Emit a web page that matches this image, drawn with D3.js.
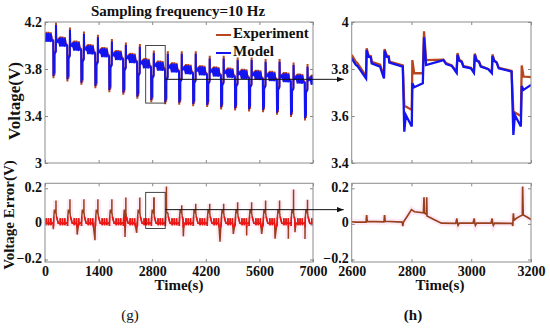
<!DOCTYPE html>
<html>
<head>
<meta charset="utf-8">
<script src="https://cdn.jsdelivr.net/npm/d3@7"></script>
<style>
  body { margin: 0; background: #fff; }
  svg text { font-family: "Liberation Serif", "Times New Roman", serif; font-weight: bold; fill: #111; }
</style>
</head>
<body>
<div id="chart"></div>
<script>
// ---- zoomed window 2600-3200 s ----
const zoomTime = [2600, 2614, 2619, 2648, 2650, 2656, 2664, 2667, 2695, 2708, 2710, 2717, 2724, 2726, 2771, 2776, 2781, 2801, 2803, 2809, 2838, 2842, 2849, 2907, 2916, 2935, 2951, 2954, 2960, 2968, 2974, 2999, 3009, 3012, 3018, 3026, 3032, 3057, 3069, 3071, 3077, 3085, 3092, 3135, 3141, 3146, 3166, 3169, 3175, 3200];
const zoomModel = [3.845, 3.817, 3.813, 3.76, 3.881, 3.852, 3.85, 3.824, 3.81, 3.76, 3.878, 3.852, 3.85, 3.827, 3.81, 3.533, 3.604, 3.555, 3.739, 3.722, 3.739, 3.935, 3.817, 3.838, 3.821, 3.813, 3.784, 3.86, 3.835, 3.83, 3.81, 3.803, 3.784, 3.86, 3.835, 3.83, 3.81, 3.799, 3.782, 3.855, 3.834, 3.827, 3.803, 3.789, 3.519, 3.604, 3.555, 3.728, 3.711, 3.732];
const zoomExperiment = [3.86, 3.83, 3.825, 3.77, 3.888, 3.858, 3.855, 3.83, 3.818, 3.768, 3.885, 3.858, 3.855, 3.832, 3.815, 3.643, 3.64, 3.626, 3.838, 3.782, 3.782, 3.96, 3.838, 3.84, 3.825, 3.815, 3.788, 3.868, 3.84, 3.833, 3.812, 3.805, 3.787, 3.866, 3.838, 3.832, 3.812, 3.8, 3.785, 3.862, 3.836, 3.829, 3.805, 3.792, 3.62, 3.615, 3.6, 3.815, 3.768, 3.765];
const zoomErrTime = [2600, 2612, 2648, 2650, 2652, 2708, 2710, 2712, 2769, 2771, 2773, 2785, 2800, 2810, 2840, 2842, 2843, 2850, 2851, 2852, 2875, 2900, 2948, 2952, 2954, 2956, 2960, 3006, 3010, 3012, 3014, 3018, 3066, 3070, 3072, 3074, 3078, 3137, 3139, 3141, 3143, 3150, 3165, 3171, 3172, 3174, 3185, 3200];
const zoomErr = [0.012, 0.01, 0.01, 0.05, 0.014, 0.011, 0.05, 0.015, 0.01, -0.012, 0.01, 0.04, 0.08, 0.068, 0.062, 0.15, 0.06, 0.055, 0.15, 0.045, 0.025, 0.004, 0.003, 0.03, 0.003, -0.008, 0.004, 0.004, 0.03, 0.003, -0.008, 0.004, 0.004, 0.03, 0.003, -0.008, 0.004, 0.003, -0.012, 0.06, 0.02, 0.03, 0.045, 0.05, 0.21, 0.05, 0.04, 0.025];

// ---- full test 0-7000 s, read per pulse cycle off panel (g) ----
const firstCycleStart = -144, firstCycleRest = 4.085;
const cycleStart = [221, 586, 951, 1316, 1681, 2046, 2411, 2776, 3141, 3506, 3871, 4236, 4601, 4966, 5331, 5696, 6061, 6426, 6791];
const cycleRest = [4.045, 4.01, 3.98, 3.955, 3.93, 3.905, 3.86, 3.84, 3.825, 3.81, 3.8, 3.79, 3.78, 3.77, 3.762, 3.752, 3.742, 3.73, 3.72];
const cycleMin = [3.74, 3.712, 3.684, 3.655, 3.621, 3.599, 3.565, 3.536, 3.519, 3.513, 3.502, 3.494, 3.474, 3.465, 3.457, 3.451, 3.428, 3.409, 3.38];
const cycleMax = [4.174, 4.132, 4.098, 4.07, 4.033, 4.004, 3.99, 3.935, 3.93, 3.93, 3.93, 3.89, 3.89, 3.876, 3.876, 3.862, 3.862, 3.834, 3.82];
// one cycle as seen in the zoom (s after the discharge pulse, offset from min / rest / max)
const shapeTime = [0, 5, 25, 27, 33, 62, 66, 73, 131, 140, 159, 175, 178, 184, 192, 198, 223, 233, 236, 242, 250, 256, 281, 293, 295, 301, 309, 316, 359];
const shapeRef = ["min", "min", "min", "rest", "rest", "rest", "max", "rest", "rest", "rest", "rest", "rest", "rest", "rest", "rest", "rest", "rest", "rest", "rest", "rest", "rest", "rest", "rest", "rest", "rest", "rest", "rest", "rest", "rest"];
const shapeOffset = [0, 0.07, 0.022, -0.099, -0.116, -0.099, 0, -0.021, 0, -0.017, -0.025, -0.054, 0.022, -0.003, -0.008, -0.028, -0.035, -0.054, 0.022, -0.003, -0.008, -0.028, -0.039, -0.056, 0.017, -0.004, -0.011, -0.035, -0.049];
const errShapeTime = [0, 2, 4, 10, 24, 34, 64, 67, 74, 76, 99, 124, 164, 176, 178, 180, 182, 186, 234, 236, 238, 240, 244, 293, 295, 297, 299, 303, 362];
const errShapeVal = [0.012, -0.012, 0.012, 0.04, 0.08, 0.068, 0.06, 0.06, 0.055, 0.045, 0.025, 0.004, 0.002, 0.006, 0.032, 0.004, -0.008, 0.004, 0.004, 0.032, 0.004, -0.008, 0.004, 0.004, 0.032, 0.004, -0.008, 0.004, 0.004];
const errSpikeTime = [287, 652, 1017, 1382, 1747, 2112, 2477, 2842, 2851, 3172, 3572, 3937, 4302, 4667, 5032, 5397, 5762, 6127, 6492, 6857];
const errSpikeVal = [0.131, 0.139, 0.139, 0.139, 0.139, 0.148, 0.148, 0.15, 0.15, 0.21, 0.105, 0.113, 0.113, 0.113, 0.121, 0.121, 0.131, 0.131, 0.193, 0.135];
const errDipTime = [218, 840, 1306, 2090, 2395, 3613, 4571, 4919, 5268, 5660, 6008, 6356, 6530, 6791];
const errDipVal = [-0.03, -0.06, -0.092, -0.074, -0.05, -0.07, -0.1, -0.056, -0.065, -0.056, -0.083, -0.083, -0.047, -0.085];

// annotation values
const zoomBoxTime = [2630, 3140], zoomBoxVolt = [3.51, 4.0], zoomBoxErr = [-0.026, 0.177];
const arrowVolt = 3.712, arrowErr = 0.08;
const fullTicks = [0, 1400, 2800, 4200, 5600, 7000];
const zoomTicks = [2600, 2800, 3000, 3200];

const width = 550, height = 329;
const svg = d3.select("#chart").append("svg").attr("width", width).attr("height", height);

const xFull = d3.scaleLinear().domain([0, 7000]).range([45, 313]);
const xZoom = d3.scaleLinear().domain([2600, 3200]).range([351.7, 531]);
const yVolt = d3.scaleLinear().domain([3, 4.2]).range([163, 22]);
const yVoltZoom = d3.scaleLinear().domain([3.4, 4]).range([163, 22]);
const yErr = d3.scaleLinear().domain([-0.214, 0.228]).range([262, 183.3]);

const colExp = "#b8461e", colModel = "#1414f0", colErr = "#98401c", colErrBase = "#ee1414";

function overviewVolt(dMin, dMax, dRest) {
  const pts = [];
  shapeTime.forEach((s, i) => {
    if (s >= 140) pts.push([firstCycleStart + s, firstCycleRest + shapeOffset[i] + dRest]);
  });
  cycleStart.forEach((d, k) => {
    shapeTime.forEach((s, i) => {
      let v;
      if (shapeRef[i] === "min") v = cycleMin[k] + shapeOffset[i] + dMin;
      else if (shapeRef[i] === "max") v = cycleMax[k] + dMax;
      else v = cycleRest[k] + shapeOffset[i] + dRest;
      pts.push([d + s, v]);
    });
  });
  return pts;
}

function overviewErr() {
  const pts = [];
  errShapeTime.forEach((s, i) => {
    if (s >= 140) pts.push([firstCycleStart + s, errShapeVal[i]]);
  });
  cycleStart.forEach((d) => {
    errShapeTime.forEach((s, i) => pts.push([d + s, errShapeVal[i]]));
  });
  errSpikeTime.forEach((t, i) => pts.push([t, errSpikeVal[i]]));
  errDipTime.forEach((t, i) => pts.push([t, errDipVal[i]]));
  return pts.sort((a, b) => a[0] - b[0]);
}

const defs = svg.append("defs");
function clip(id, x, y) {
  defs.append("clipPath").attr("id", id).append("rect")
    .attr("x", x.range()[0]).attr("y", y.range()[1])
    .attr("width", x.range()[1] - x.range()[0])
    .attr("height", y.range()[0] - y.range()[1]);
}
clip("cTL", xFull, yVolt);
clip("cTR", xZoom, yVoltZoom);
clip("cBL", xFull, yErr);
clip("cBR", xZoom, yErr);
defs.append("clipPath").attr("id", "cBand").append("rect")
  .attr("x", 45).attr("width", 268)
  .attr("y", yErr(0.04)).attr("height", yErr(-0.02) - yErr(0.04));
defs.append("marker").attr("id", "arrow").attr("viewBox", "0 0 10 10")
  .attr("refX", 10).attr("refY", 5).attr("markerWidth", 7).attr("markerHeight", 7)
  .attr("orient", "auto").attr("markerUnits", "userSpaceOnUse")
  .append("path").attr("d", "M0,1L10,5L0,9Z").attr("fill", "#111");

function frame(x, y, yTicks, xTicks, xLabels, yFmt) {
  const g = svg.append("g");
  const left = g.append("g").attr("transform", "translate(" + x.range()[0] + ",0)")
    .call(d3.axisLeft(y).tickValues(yTicks).tickSizeInner(-3).tickSizeOuter(0).tickPadding(3).tickFormat(yFmt));
  g.append("g").attr("transform", "translate(" + x.range()[1] + ",0)")
    .call(d3.axisRight(y).tickValues(yTicks).tickSizeInner(-3).tickSizeOuter(0).tickFormat(""));
  g.append("g").attr("transform", "translate(0," + y.range()[0] + ")")
    .call(d3.axisBottom(x).tickValues(xTicks).tickSizeInner(-3).tickSizeOuter(0).tickPadding(4.5)
      .tickFormat(xLabels ? d3.format("d") : ""));
  g.append("g").attr("transform", "translate(0," + y.range()[1] + ")")
    .call(d3.axisTop(x).tickValues(xTicks).tickSizeInner(-3).tickSizeOuter(0).tickFormat(""));
  if (xLabels) left.selectAll(".tick text").attr("dy", "0.2em");
  g.selectAll(".domain").remove();
  g.selectAll(".tick line").attr("stroke", "#888");
  g.selectAll(".tick text").style("font-size", "14px").attr("fill", "#111");
  g.append("rect")
    .attr("x", x.range()[0]).attr("y", y.range()[1])
    .attr("width", x.range()[1] - x.range()[0]).attr("height", y.range()[0] - y.range()[1])
    .attr("fill", "none").attr("stroke", "#8c8c8c").attr("stroke-width", 1);
}

const fmtV = (d) => (d === 4 || d === 3 ? d3.format("d")(d) : d3.format(".1f")(d));
const fmtE = (d) => (d === 0 ? "0" : d3.format(".1f")(d));

// ---- top left: full test ----
const lineFull = d3.line().x((d) => xFull(d[0])).y((d) => yVolt(d[1]));
const tl = svg.append("g").attr("clip-path", "url(#cTL)");
tl.append("path").attr("d", lineFull(overviewVolt(-0.018, 0.022, 0.01)))
  .attr("fill", "none").attr("stroke", colExp).attr("stroke-width", 2);
tl.append("path").attr("d", lineFull(overviewVolt(0, 0, 0)))
  .attr("fill", "none").attr("stroke", colModel).attr("stroke-width", 2);
frame(xFull, yVolt, [3, 3.4, 3.8, 4.2], fullTicks, false, fmtV);

// ---- top right: zoom ----
const lineZoom = d3.line().x((d) => xZoom(d[0])).y((d) => yVoltZoom(d[1]));
const tr = svg.append("g").attr("clip-path", "url(#cTR)");
tr.append("path").attr("d", lineZoom(zoomTime.map((t, i) => [t, zoomExperiment[i]])))
  .attr("fill", "none").attr("stroke", colExp).attr("stroke-width", 2.3);
tr.append("path").attr("d", lineZoom(zoomTime.map((t, i) => [t, zoomModel[i]])))
  .attr("fill", "none").attr("stroke", colModel).attr("stroke-width", 2.3);
frame(xZoom, yVoltZoom, [3.4, 3.6, 3.8, 4], zoomTicks, false, fmtV);

// ---- bottom left: error full test ----
const lineErrFull = d3.line().x((d) => xFull(d[0])).y((d) => yErr(d[1]));
const errPts = overviewErr();
const bl = svg.append("g").attr("clip-path", "url(#cBL)");
bl.append("path").attr("d", lineErrFull(errPts))
  .attr("fill", "none").attr("stroke", "#feeaf7").attr("stroke-width", 6);
bl.append("path").attr("d", lineErrFull(errPts))
  .attr("fill", "none").attr("stroke", colErr).attr("stroke-width", 1.5);
bl.append("path").attr("d", lineErrFull(errPts)).attr("clip-path", "url(#cBand)")
  .attr("fill", "none").attr("stroke", colErrBase).attr("stroke-width", 1.5);
frame(xFull, yErr, [-0.2, 0, 0.2], fullTicks, true, fmtE);

// ---- bottom right: error zoom ----
const lineErrZoom = d3.line().x((d) => xZoom(d[0])).y((d) => yErr(d[1]));
const zErrPts = zoomErrTime.map((t, i) => [t, zoomErr[i]]);
const br = svg.append("g").attr("clip-path", "url(#cBR)");
br.append("path").attr("d", lineErrZoom(zErrPts))
  .attr("fill", "none").attr("stroke", "#feeaf7").attr("stroke-width", 6);
br.append("path").attr("d", lineErrZoom(zErrPts))
  .attr("fill", "none").attr("stroke", colErr).attr("stroke-width", 1.7);
frame(xZoom, yErr, [-0.2, 0, 0.2], zoomTicks, true, fmtE);

// ---- zoom boxes and arrows ----
svg.append("rect")
  .attr("x", xFull(zoomBoxTime[0])).attr("y", yVolt(zoomBoxVolt[1]))
  .attr("width", xFull(zoomBoxTime[1]) - xFull(zoomBoxTime[0]))
  .attr("height", yVolt(zoomBoxVolt[0]) - yVolt(zoomBoxVolt[1]))
  .attr("fill", "none").attr("stroke", "#333").attr("stroke-width", 0.9);
svg.append("line")
  .attr("x1", xFull(zoomBoxTime[1])).attr("x2", xZoom.range()[0] - 8)
  .attr("y1", yVolt(arrowVolt)).attr("y2", yVolt(arrowVolt))
  .attr("stroke", "#111").attr("stroke-width", 1).attr("marker-end", "url(#arrow)");
svg.append("rect")
  .attr("x", xFull(zoomBoxTime[0])).attr("y", yErr(zoomBoxErr[1]))
  .attr("width", xFull(zoomBoxTime[1]) - xFull(zoomBoxTime[0]))
  .attr("height", yErr(zoomBoxErr[0]) - yErr(zoomBoxErr[1]))
  .attr("fill", "none").attr("stroke", "#333").attr("stroke-width", 0.9);
svg.append("line")
  .attr("x1", xFull(zoomBoxTime[1])).attr("x2", xZoom.range()[0] - 8)
  .attr("y1", yErr(arrowErr)).attr("y2", yErr(arrowErr))
  .attr("stroke", "#111").attr("stroke-width", 1).attr("marker-end", "url(#arrow)");

// ---- legend ----
const legend = [["Experiment", colExp], ["Model", colModel]];
legend.forEach((l, i) => {
  svg.append("line").attr("x1", 216).attr("x2", 231).attr("y1", 35 + i * 18).attr("y2", 35 + i * 18)
    .attr("stroke", l[1]).attr("stroke-width", 2);
  svg.append("text").attr("x", 233).attr("y", 35 + i * 18).attr("dominant-baseline", "middle")
    .style("font-size", "15px").text(l[0]);
});

// ---- titles and labels ----
svg.append("text").attr("x", 178).attr("y", 13).attr("text-anchor", "middle")
  .attr("dominant-baseline", "middle").style("font-size", "15px").text("Sampling frequency=10 Hz");
svg.append("text").attr("transform", "translate(16,101) rotate(-90)").attr("text-anchor", "middle")
  .attr("dominant-baseline", "middle").style("font-size", "17px").text("Voltage(V)");
svg.append("text").attr("transform", "translate(11,215) rotate(-90)").attr("text-anchor", "middle")
  .attr("dominant-baseline", "middle").style("font-size", "15px").text("Voltage Error(V)");
svg.append("text").attr("x", 179).attr("y", 287).attr("text-anchor", "middle")
  .attr("dominant-baseline", "middle").style("font-size", "15px").text("Time(s)");
svg.append("text").attr("x", 440).attr("y", 287).attr("text-anchor", "middle")
  .attr("dominant-baseline", "middle").style("font-size", "15px").text("Time(s)");
svg.append("text").attr("x", 130).attr("y", 317).attr("text-anchor", "middle")
  .attr("dominant-baseline", "middle").style("font-size", "15px").style("font-weight", "normal").text("(g)");
svg.append("text").attr("x", 413).attr("y", 317).attr("text-anchor", "middle")
  .attr("dominant-baseline", "middle").style("font-size", "15px").text("(h)");
</script>
</body>
</html>
